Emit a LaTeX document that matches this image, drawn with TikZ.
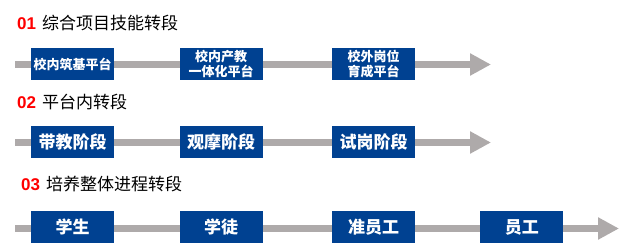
\documentclass[tikz,border=0pt]{standalone}
\usepackage{fontspec}
\setmainfont{Liberation Sans}
\newfontfamily\cjk{Noto Sans CJK SC}
\usetikzlibrary{arrows.meta,positioning}
\definecolor{boxblue}{RGB}{0,65,145}
\definecolor{bargray}{RGB}{174,170,170}
\definecolor{numred}{RGB}{255,0,0}

\begin{document}
\begin{tikzpicture}[
    x=1pt, y=-1pt,
    node distance=65pt,
    stage/.style={fill=boxblue, text=white, minimum width=83pt, minimum height=32pt,
      inner sep=0pt, align=center, font=\cjk\bfseries\fontsize{17}{17}\selectfont},
    small/.style={font=\cjk\bfseries\fontsize{13}{14.5}\selectfont},
    title/.style={anchor=west, inner sep=0pt, font=\fontsize{17}{17}\selectfont},
    bar/.style={draw=bargray, line width=7pt, -{Triangle[length=21pt,width=21pt]}}
  ]
  \useasboundingbox (0,0) rectangle (626,249);

  % row 1
  \coordinate (s1) at (15,64.5);
  \coordinate (e1) at (491,64.5);
  \draw[bar] (s1) -- (e1);
  \node[title] (t1) at (17,23) {\textcolor{numred}{\bfseries 01}\hspace{6pt}{\cjk 综合项目技能转段}};
  \node[stage, small, anchor=north west] (a1) at (31,48) {校内筑基平台};
  \node[stage, small, right=of a1] (a2) {校内产教\\一体化平台};
  \node[stage, small, right=69pt of a2] (a3) {校外岗位\\育成平台};

  % row 2
  \coordinate (s2) at (15,142.5);
  \coordinate (e2) at (491,142.5);
  \draw[bar] (s2) -- (e2);
  \node[title] (t2) at (17,102.5) {\textcolor{numred}{\bfseries 02}\hspace{6pt}{\cjk 平台内转段}};
  \node[stage, anchor=north west] (b1) at (31,126) {带教阶段};
  \node[stage, right=of b1] (b2) {观摩阶段};
  \node[stage, right=69pt of b2] (b3) {试岗阶段};

  % row 3
  \coordinate (s3) at (15,228.5);
  \coordinate (e3) at (619,228.5);
  \draw[bar] (s3) -- (e3);
  \node[title] (t3) at (21,184) {\textcolor{numred}{\bfseries 03}\hspace{6pt}{\cjk 培养整体进程转段}};
  \node[stage, anchor=north west] (c1) at (31,211) {学生};
  \node[stage, right=of c1] (c2) {学徒};
  \node[stage, right=69pt of c2] (c3) {准员工};
  \node[stage, right=of c3] (c4) {员工};
\end{tikzpicture}
\end{document}
